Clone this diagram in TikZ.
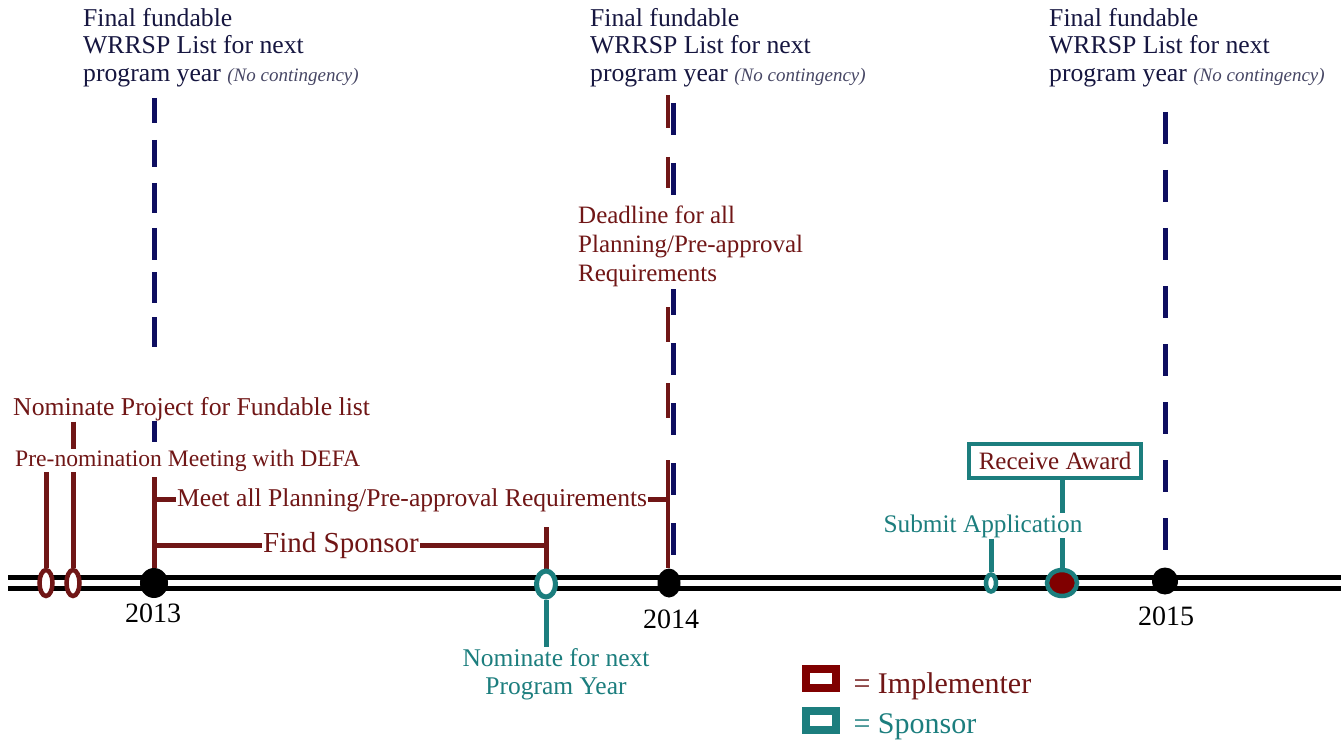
\documentclass[tikz,border=0pt]{standalone}
\usepackage{fontspec}
\setmainfont{Liberation Serif}
\usetikzlibrary{shapes.geometric}
\definecolor{implc}{RGB}{112,22,22}
\definecolor{implfill}{RGB}{128,0,0}
\definecolor{sponc}{RGB}{28,126,126}
\definecolor{navyc}{RGB}{14,14,96}
\definecolor{titlec}{RGB}{22,22,64}
\definecolor{notec}{RGB}{70,70,100}
\newcommand{\nocont}{\fontsize{19}{20}\selectfont\itshape\color{notec}}
\pgfdeclarelayer{bg}
\pgfsetlayers{bg,main}
\begin{document}
\begin{tikzpicture}[x=1pt,y=-1pt,
  titlebox/.style={anchor=north west, align=left, inner sep=0pt, text=titlec,
    font=\fontsize{25.7}{27.5}\selectfont},
  impltext/.style={text=implc, fill=white, inner sep=1pt},
  spontext/.style={text=sponc, fill=white, inner sep=1pt},
  yeartext/.style={anchor=base, text=black, font=\fontsize{28}{30}\selectfont},
  implline/.style={draw=implc, line width=5pt},
  sponline/.style={draw=sponc, line width=5pt},
  navydash/.style={draw=navyc, line width=5pt},
  rail/.style={draw=black, line width=5.5pt},
  yeardot/.style={ellipse, fill=black, inner sep=0pt},
  implmark/.style={ellipse, draw=implc, line width=4.5pt, fill=white, inner sep=0pt},
  sponmark/.style={ellipse, draw=sponc, line width=4.5pt, fill=white, inner sep=0pt},
  legendbox/.style={rectangle, line width=8pt, fill=white, minimum width=30pt,
    minimum height=19pt, inner sep=0pt}
]
\useasboundingbox (0,0) rectangle (1341,746);

% ---- milestone titles along the top
\node[titlebox] (t13) at (83,8) {Final fundable\\WRRSP List for next\\program year {\nocont (No contingency)}};
\node[titlebox] (t14) at (590,8) {Final fundable\\WRRSP List for next\\program year {\nocont (No contingency)}};
\node[titlebox] (t15) at (1049,8) {Final fundable\\WRRSP List for next\\program year {\nocont (No contingency)}};

% ---- implementer labels
\node[impltext, anchor=north west, align=left, inner sep=2pt,
      font=\fontsize{25}{29}\selectfont] (dead) at (576,204)
      {Deadline for all\\Planning/Pre-approval\\Requirements};
\node[impltext, anchor=base west, font=\fontsize{25.7}{30}\selectfont] (nomproj) at (12,415)
      {Nominate Project for Fundable list};
\node[impltext, anchor=base west, font=\fontsize{23.6}{26}\selectfont] (prenom) at (14,466)
      {Pre-nomination Meeting with DEFA};
\node[impltext, anchor=base west, font=\fontsize{25.6}{28}\selectfont] (meet) at (176,506)
      {Meet all Planning/Pre-approval Requirements};
\node[impltext, anchor=base west, font=\fontsize{29}{32}\selectfont] (find) at (262,552)
      {Find Sponsor};

% ---- marks on the timeline
\node[implmark, minimum width=13pt, minimum height=26pt] (pn1) at (46,583) {};
\node[implmark, minimum width=13pt, minimum height=26pt] (pn2) at (73,583) {};
\node[yeardot, minimum width=28pt, minimum height=30pt] (d13) at (154,583) {};
\node[yeardot, minimum width=23pt, minimum height=29pt] (d14) at (669,583) {};
\node[yeardot, minimum width=26pt, minimum height=27pt] (d15) at (1165,581) {};
\node[sponmark, line width=5pt, minimum width=19pt, minimum height=26pt] (nfn) at (546,584) {};
\node[sponmark, minimum width=10pt, minimum height=17pt] (sub) at (991,583) {};
\node[sponmark, fill=implfill, minimum width=30pt, minimum height=26pt] (rcv) at (1062,583) {};

% ---- years
\node[yeartext] (y13) at (153,622) {2013};
\node[yeartext] (y14) at (671,628) {2014};
\node[yeartext] (y15) at (1166,625) {2015};

% ---- sponsor labels
\node[spontext, anchor=north, align=center, font=\fontsize{25.5}{28}\selectfont] (nfnlab) at (556,647)
      {Nominate for next\\Program Year};
\node[spontext, anchor=base, font=\fontsize{25.3}{28}\selectfont] (sublab) at (983,532)
      {Submit Application};
\node[draw=sponc, line width=4pt, fill=white, text=implc, font=\fontsize{25}{28}\selectfont,
      minimum width=172pt, minimum height=34pt, inner sep=0pt] (award) at (1055,461)
      {Receive Award};

% ---- legend
\node[legendbox, draw=implfill] (legi) at (821,678.5) {};
\node[legendbox, draw=sponc] (legs) at (821,720) {};
\node[anchor=base west, text=implc, font=\fontsize{30}{32}\selectfont] (legit) at (850,693) {= Implementer};
\node[anchor=base west, text=sponc, font=\fontsize{30}{32}\selectfont] (legst) at (850,733) {= Sponsor};

% ---- free ends of lines
\coordinate (railW) at (8,583);
\coordinate (railE) at (1341,583);
\coordinate (n13top) at (154,98);
\coordinate (n14top) at (673,103);
\coordinate (n15top) at (1165,112);
\coordinate (b14top) at (668,95);
\coordinate (b14mid) at (668,418);
\coordinate (b14low) at (668,460);
\coordinate (b13top) at (154,477);

\begin{pgfonlayer}{bg}
  % double rail
  \draw[rail] ([yshift=5.5pt]railW) -- ([yshift=5.5pt]railE);
  \draw[rail] ([yshift=-5.5pt]railW) -- ([yshift=-5.5pt]railE);

  % dashed year markers
  \draw[navydash, dash pattern=on 25pt off 17pt on 27pt off 16pt on 30pt off 15pt on 32pt off 12pt on 31pt off 14pt on 30pt off 73pt on 22pt]
    (n13top) -- (n13top |- prenom.north);
  \draw[navydash, dash pattern=on 32pt off 28pt] (n14top) -- (n14top |- d14.north);
  \draw[navydash, dash pattern=on 32pt off 26pt] (n15top) -- (n15top |- d15.north);
  \draw[implline, line width=4pt, dash pattern=on 33pt off 29pt on 31pt off 119pt on 35pt off 41pt on 35pt off 50pt]
    (b14top) -- (b14mid);

  % implementer connectors
  \draw[implline] (prenom.south -| pn1) -- (pn1.north);
  \draw[implline] (nomproj.south -| pn2) -- (pn2.north);
  \draw[implline] (b13top) -- (d13.north);
  \draw[implline] (meet.west -| d13) -- (meet.west);
  \draw[implline] (find.west -| d13) -- (find.west);
  \draw[implline] (find.east) -- (find.east -| nfn);
  \draw[implline] ([yshift=18pt]find.east -| nfn) -- (nfn.north);
  \draw[implline] (meet.east) -- (meet.east -| b14low);
  \draw[implline, line width=4pt] (b14low) -- (b14low |- d14.north);

  % sponsor connectors
  \draw[sponline] (nfn.south) -- (nfnlab.north -| nfn);
  \draw[sponline] (sublab.south -| sub) -- (sub.north);
  \draw[sponline] (award.south -| rcv) -- (rcv.north);
\end{pgfonlayer}
\end{tikzpicture}
\end{document}
